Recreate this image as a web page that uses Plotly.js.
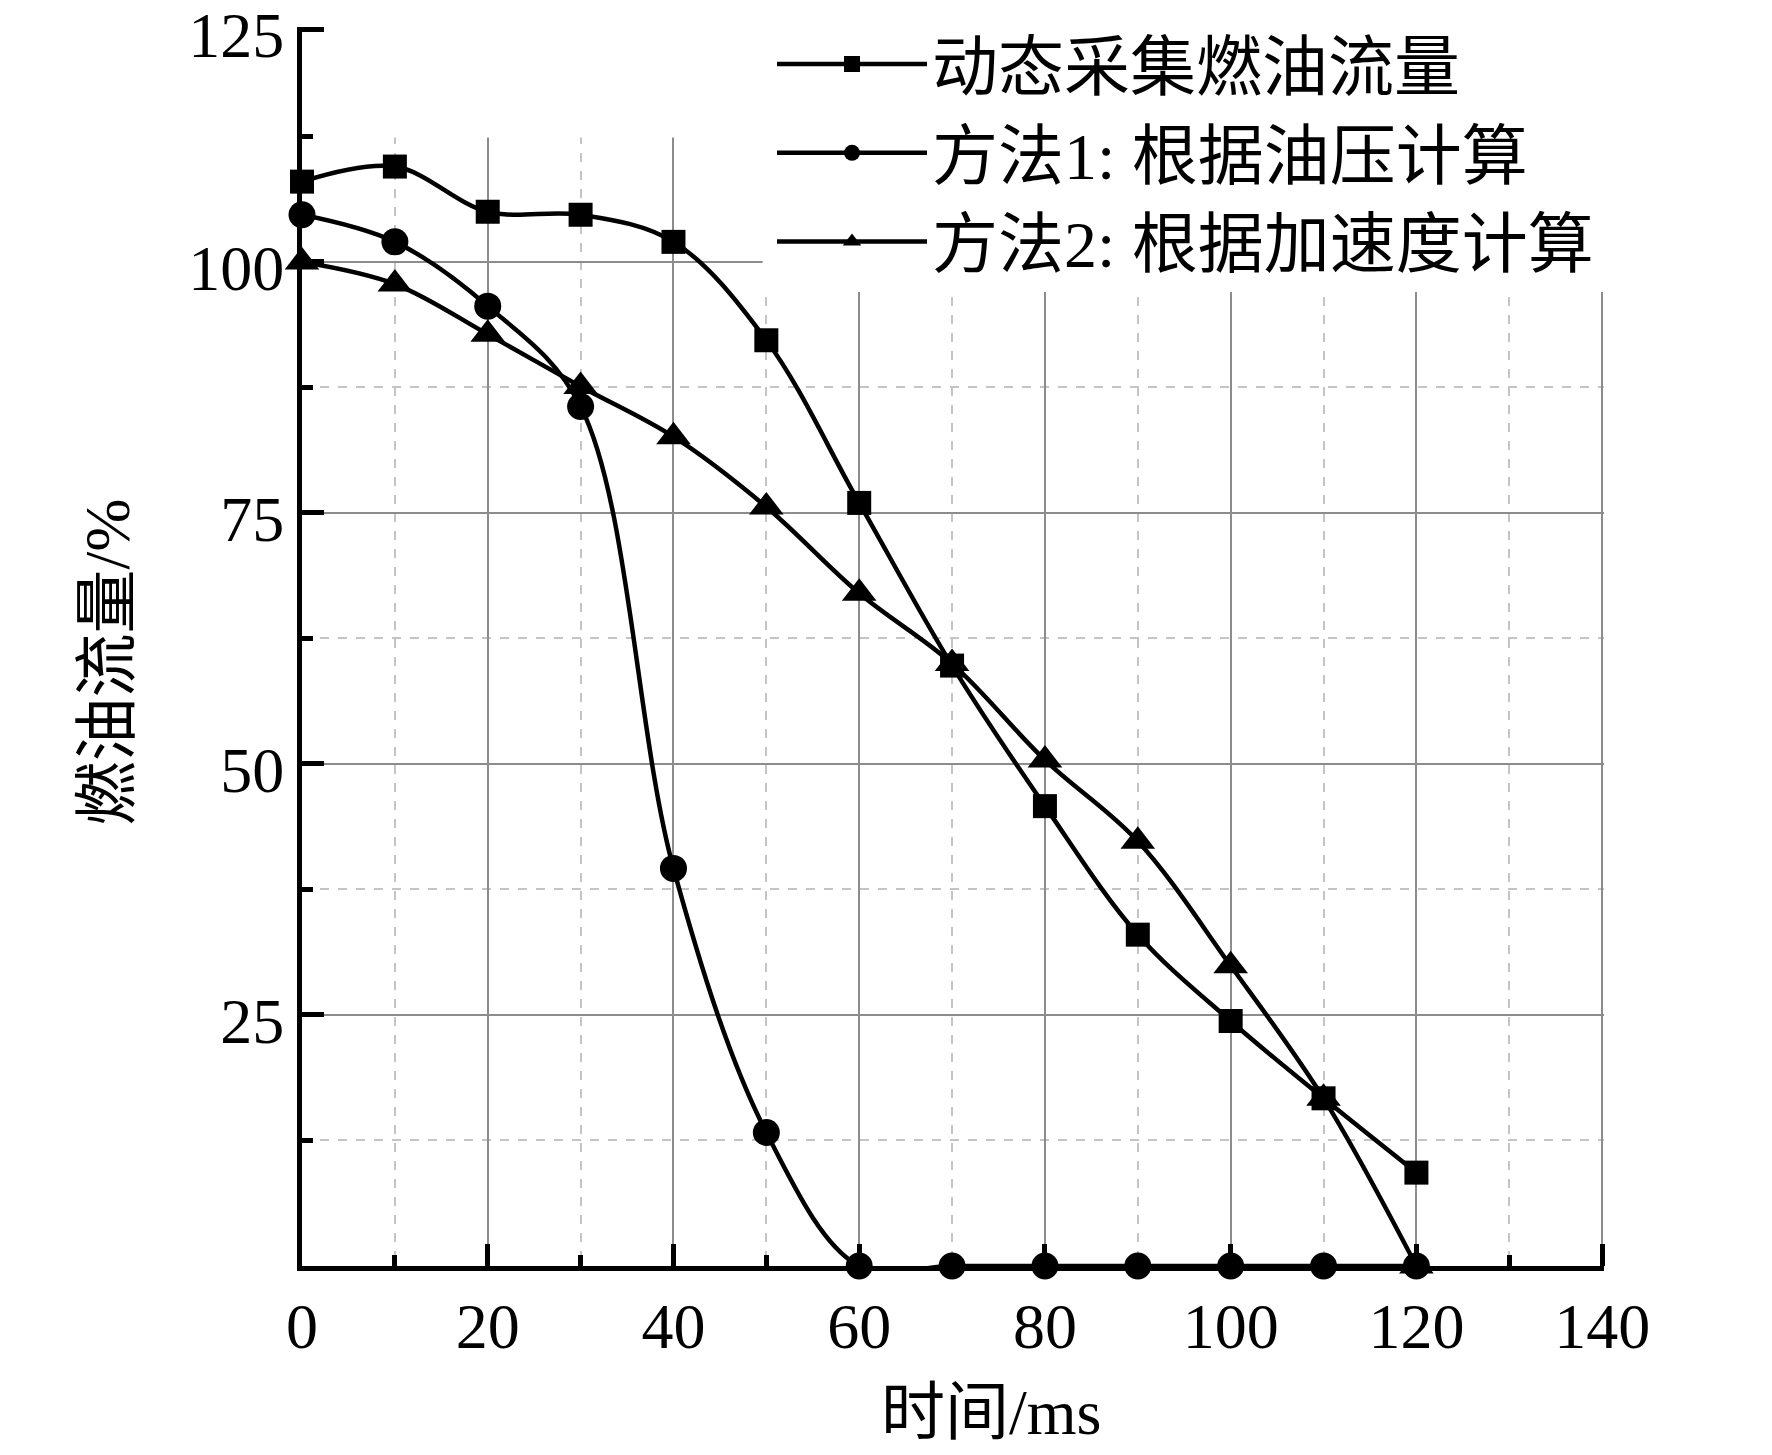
<!DOCTYPE html>
<html>
<head>
<meta charset="utf-8">
<script src="https://cdn.plot.ly/plotly-3.0.1.min.js"></script>
<style>
  html, body { margin: 0; padding: 0; background: #fff; }
  #chart { width: 1772px; height: 1455px; }
</style>
</head>
<body>
<div id="chart"></div>
<script>
// time axis (ms)
var timeMs = [0, 10, 20, 30, 40, 50, 60, 70, 80, 90, 100, 110, 120];

// fuel flow, %
var measuredFlow = [108, 109.5, 105, 104.7, 102, 92.2, 76, 59.8, 45.8, 33, 24.4, 16.7, 9.3];
var method1Flow  = [104.7, 102, 95.6, 85.6, 39.6, 13.3, 0, 0, 0, 0, 0, 0, 0];
var method2Flow  = [100, 97.8, 92.8, 87.6, 82.6, 75.6, 67, 60, 50.4, 42.3, 29.9, 16.7, 0];

var seriesNames = ['动态采集燃油流量', '方法1: 根据油压计算', '方法2: 根据加速度计算'];

// the original axis stops a little short of 125 but labels its end "125"
var yTop = 123.2;
var yTickVals = [0, 25, 50, 75, 100, yTop];
var yTickText = ['', '25', '50', '75', '100', '125'];

var FONT = 'Liberation Serif, "Times New Roman", "Noto Sans CJK SC", serif';

function makeTrace(y, name, symbol, size) {
    return {
        x: timeMs,
        y: y,
        name: name,
        type: 'scatter',
        mode: 'lines+markers',
        cliponaxis: false,
        line: { color: '#000', width: 4.5, shape: 'spline', smoothing: 1 },
        marker: { symbol: symbol, size: size, color: '#000' }
    }
}

var data = [
    makeTrace(measuredFlow, seriesNames[0], 'square', 24),
    makeTrace(method1Flow, seriesNames[1], 'circle', 27),
    makeTrace(method2Flow, seriesNames[2], 'triangle-up', 30)
];

// ranges are a hair wider than the last tick so plotly keeps the end ticks
var layout = {
    width: 1772,
    height: 1455,
    margin: { l: 302, r: 168, t: 27, b: 189, autoexpand: false },
    paper_bgcolor: '#fff',
    plot_bgcolor: '#fff',
    font: { family: FONT, size: 64, color: '#000' },
    showlegend: true,
    legend: {
        x: 0.361, y: 1.01, xanchor: 'left', yanchor: 'top',
        bgcolor: 'rgba(0,0,0,0)',
        font: { family: FONT, size: 66, color: '#000' },
        itemwidth: 150,
        tracegroupgap: 0
    },
    xaxis: {
        range: [0, 140.2],
        tickmode: 'linear', tick0: 0, dtick: 20,
        ticks: 'inside', ticklen: 22, tickwidth: 5, tickcolor: '#000',
        showline: true, linewidth: 5, linecolor: '#000',
        showgrid: true, gridcolor: '#8c8c8c', gridwidth: 2,
        zeroline: false,
        ticklabeloverflow: 'allow',
        tickfont: { family: FONT, size: 64 },
        minor: { dtick: 10, tick0: 0, ticks: 'inside', ticklen: 11, tickwidth: 5, tickcolor: '#000',
                 showgrid: true, gridcolor: '#c4c4c4', griddash: 'dash', gridwidth: 2 }
    },
    yaxis: {
        range: [0, yTop + 0.2],
        tickmode: 'array', tickvals: yTickVals, ticktext: yTickText,
        ticks: 'inside', ticklen: 22, tickwidth: 5, tickcolor: '#000',
        showline: true, linewidth: 5, linecolor: '#000',
        showgrid: true, gridcolor: '#8c8c8c', gridwidth: 2,
        zeroline: false,
        ticklabeloverflow: 'allow',
        ticklabelshift: 6,
        tickfont: { family: FONT, size: 64 },
        minor: { dtick: 12.5, tick0: 0, ticks: 'inside', ticklen: 11, tickwidth: 5, tickcolor: '#000',
                 showgrid: true, gridcolor: '#c4c4c4', griddash: 'dash', gridwidth: 2 }
    },
    // axis titles placed as in the original figure
    annotations: [
        { text: '时间/ms', xref: 'paper', yref: 'paper', x: 0.529, y: -0.118,
          xanchor: 'center', yanchor: 'middle', showarrow: false, font: { family: FONT, size: 64 } },
        { text: '燃油流量/%', xref: 'paper', yref: 'paper', x: -0.149, y: 0.487, textangle: -90,
          xanchor: 'center', yanchor: 'middle', showarrow: false, font: { family: FONT, size: 64 } }
    ],
    // white areas over the grid: top band and the legend box
    shapes: [
        { type: 'rect', layer: 'between', xref: 'x', yref: 'y', x0: 0.4, x1: 142, y0: 112.4, y1: 126,
          fillcolor: '#fff', line: { width: 0 } },
        { type: 'rect', layer: 'between', xref: 'x', yref: 'y', x0: 49.6, x1: 142, y0: 97, y1: 126,
          fillcolor: '#fff', line: { width: 0 } }
    ]
};

Plotly.newPlot('chart', data, layout, { displayModeBar: false, staticPlot: true });
</script>
</body>
</html>
